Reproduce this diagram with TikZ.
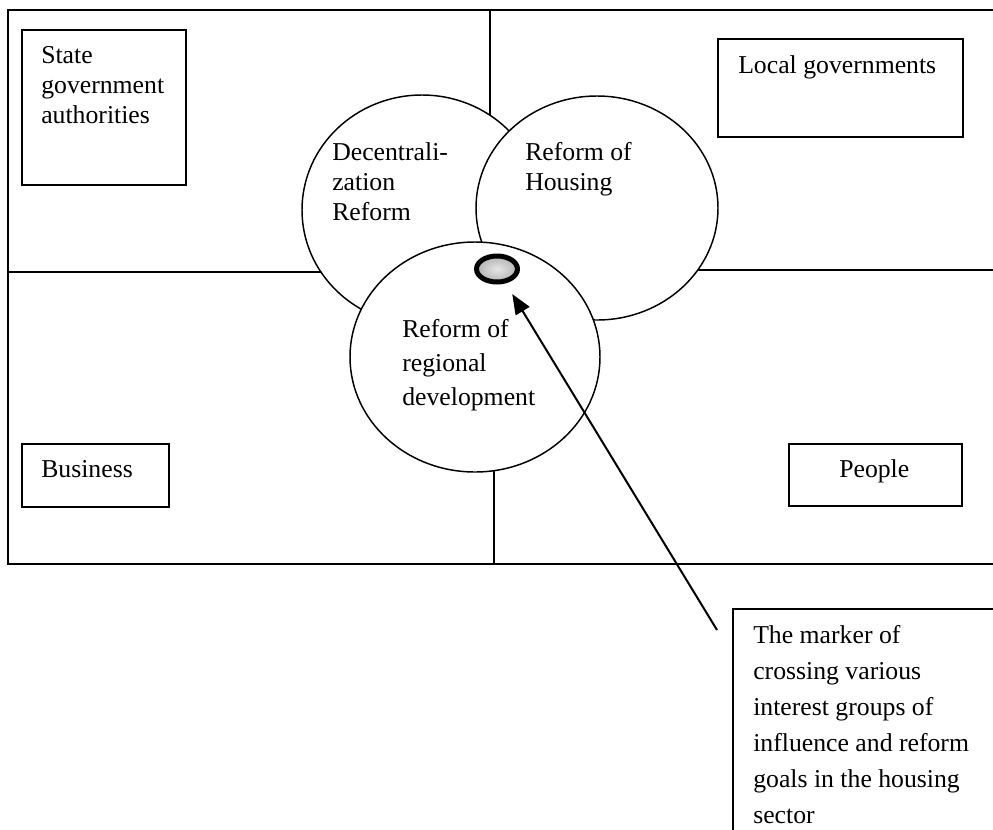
\documentclass[tikz,border=0pt]{standalone}
\usepackage{fontspec}
\setmainfont{Liberation Serif}
\usetikzlibrary{shapes.geometric,arrows.meta}

\tikzset{
  frameline/.style={line width=1.5pt},
  box/.style={draw, line width=1.5pt, inner sep=0pt, anchor=north west},
  reform/.style={ellipse, draw, fill=white, line width=1.1pt, inner sep=0pt},
  lbl/.style={inner sep=0pt, anchor=base west, align=left, font=\fontsize{19.3}{22.5}\selectfont}
}

\begin{document}
\begin{tikzpicture}[x=0.75pt, y=-0.75pt]
            \useasboundingbox (0,0) rectangle (993,829);
            \clip (0,0) rectangle (993,829);

            % Frame and quarters
            \coordinate (tl) at (8,10);
            \coordinate (bl) at (8,564);
            \draw[frameline] (1000,10) -- (tl) -- (bl) -- (1000,564);
            \coordinate (midl) at (8,272);
            \coordinate (midr) at (1000,270);
            \coordinate (topv) at (490,10);
            \coordinate (botv) at (494,564);
            \draw[frameline] (midl) -- (380,272);
            \draw[frameline] (620,270) -- (midr);
            \draw[frameline] (topv) -- (490,160);
            \draw[frameline] (botv) -- (494,420);

            % Groups of influence
            \node[box, minimum width=123pt, minimum height=116.25pt] (state) at (21,29) {};
            \node[box, minimum width=183.75pt, minimum height=73.5pt] (local) at (717,38) {};
            \node[box, minimum width=110.25pt, minimum height=47.25pt] (business) at (21,443) {};
            \node[box, minimum width=129.75pt, minimum height=46.5pt] (people) at (788,443) {};
            % (base of a multi-line label = its last line)
            \node[lbl] (statetxt) at (41,123) {State\\government\\authorities};
            \node[lbl] (localtxt) at (738,73) {Local governments};
            \node[lbl] (businesstxt) at (41,477) {Business};
            \node[lbl] (peopletxt) at (839,477) {People};

            % Reforms
            \node[reform, minimum width=180pt, minimum height=172.5pt] (decentr) at (422,210) {};
            \node[reform, minimum width=181.5pt, minimum height=168pt] (housing) at (597,208) {};
            \node[reform, minimum width=187.5pt, minimum height=172.5pt] (regional) at (475,357) {};
            \node[lbl] (decentrtxt) at (332,220) {Decentrali-\\zation\\Reform};
            \node[lbl] (housingtxt) at (525,190) {Reform of\\Housing};
            \node[lbl, font=\fontsize{19.3}{25.5}\selectfont] (regionaltxt) at (402,405) {Reform of\\regional\\development};

            % Marker
            \node[ellipse, draw, line width=3.75pt, inner color=gray!20, outer color=gray!60,
                  minimum width=30.75pt, minimum height=19.5pt, inner sep=0pt] (mark) at (497,269) {};

            % Note
            \node[box, minimum width=225pt, minimum height=225pt] (note) at (732,608) {};
            \node[lbl, font=\fontsize{19.3}{27}\selectfont] (notetxt) at (753,823)
              {The marker of\\crossing various\\interest groups of\\influence and reform\\goals in the housing\\sector};
            \coordinate (tail) at (717,630);
            \draw[line width=1.5pt, -{Triangle[length=15pt,width=12pt]}, shorten >=9.4pt] (tail) -- (mark);
\end{tikzpicture}
\end{document}
